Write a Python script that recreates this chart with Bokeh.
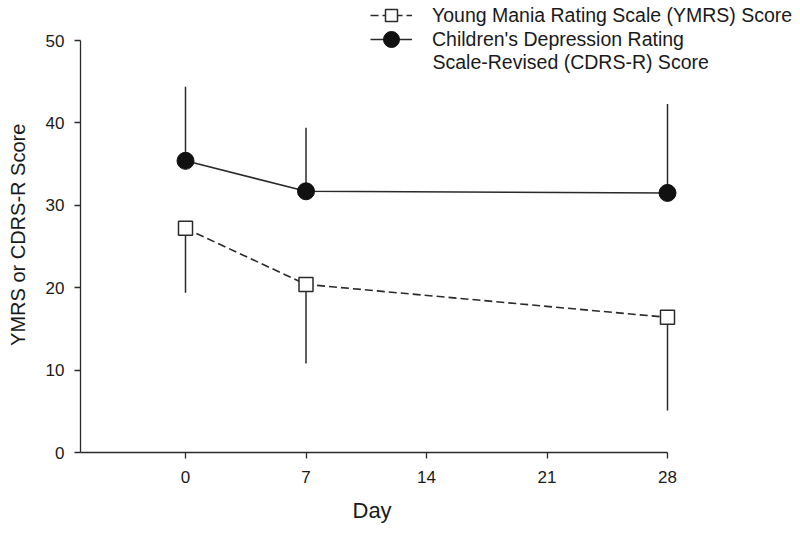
from bokeh.plotting import figure
from bokeh.models import Legend, LegendItem, Range1d, FixedTicker, ColumnDataSource, Label, Title
from bokeh.embed import file_html
from bokeh.resources import INLINE

# ---- data ----
days = [0, 7, 28]
ymrs_mean = [27.2, 20.4, 16.4]
ymrs_sd = [7.8, 9.6, 11.3]      # drawn downward
cdrs_mean = [35.4, 31.7, 31.5]
cdrs_sd = [9.0, 7.7, 10.8]      # drawn upward
x_ticks = [0, 7, 14, 21, 28]
y_ticks = [0, 10, 20, 30, 40, 50]
ymrs_label = "Young Mania Rating Scale (YMRS) Score"
cdrs_label_1 = "Children's Depression Rating"
cdrs_label_2 = "Scale-Revised (CDRS-R) Score"
x_title = "Day"
y_title = "YMRS or CDRS-R Score"

ymrs_low = [m - s for m, s in zip(ymrs_mean, ymrs_sd)]
cdrs_high = [m + s for m, s in zip(cdrs_mean, cdrs_sd)]

src = ColumnDataSource(dict(day=days, ym=ymrs_mean, ylo=ymrs_low,
                            cm=cdrs_mean, chi=cdrs_high))

FONT = "Liberation Sans"
INK = "#2a2a2a"
TXT = "#1a1a1a"

BL, BB = 80, 85
FW, FH = 716, 452
PX_DAY = (667 - 185) / 28.0
PX_UNIT = 412 / 50.0
x0 = -(185 - 80) / PX_DAY
x1 = x0 + FW / PX_DAY
ytop = FH / PX_UNIT

p = figure(width=BL + FW, height=FH + BB, frame_width=FW, frame_height=FH,
           output_backend="svg", toolbar_location=None,
           x_range=Range1d(x0, x1), y_range=Range1d(0, ytop),
           min_border_left=BL, min_border_right=0, min_border_top=0, min_border_bottom=BB)
p.outline_line_color = None
p.xgrid.visible = False
p.ygrid.visible = False
p.background_fill_color = "white"

for ax in (p.xaxis, p.yaxis):
    ax.axis_line_color = INK
    ax.axis_line_width = 1.3
    ax.major_tick_line_color = INK
    ax.major_tick_line_width = 1.3
    ax.major_tick_out = 6
    ax.major_tick_in = 0
    ax.minor_tick_line_color = None
    ax.major_label_text_font = FONT
    ax.major_label_text_font_size = "17px"
    ax.major_label_text_color = TXT

p.xaxis.ticker = FixedTicker(ticks=x_ticks)
p.yaxis.ticker = FixedTicker(ticks=y_ticks)
p.xaxis.bounds = (x0, 28)
p.yaxis.bounds = (0, 50)
p.xaxis.major_label_standoff = 12
p.yaxis.major_label_standoff = 10

# y title: axis label (non-breaking spaces nudge it to sit centred on the drawn axis line)
p.yaxis.axis_label = y_title + "\u00a0\u00a0\u00a0"
p.yaxis.axis_label_text_font = FONT
p.yaxis.axis_label_text_font_size = "20px"
p.yaxis.axis_label_text_font_style = "normal"
p.yaxis.axis_label_text_color = TXT
p.yaxis.axis_label_standoff = 14

# x title, centred under the drawn axis line (as in the reference)
p.add_layout(Title(text=x_title, align="left", offset=272, standoff=21,
                   text_font=FONT, text_font_size="22px", text_font_style="normal",
                   text_color=TXT), "below")

# error bars
p.segment(x0="day", y0="ym", x1="day", y1="ylo", source=src, line_color=INK, line_width=1.5)
p.segment(x0="day", y0="cm", x1="day", y1="chi", source=src, line_color=INK, line_width=1.5)

# lines
l_y = p.line("day", "ym", source=src, line_color=INK, line_width=1.6, line_dash="8 4")
l_c = p.line("day", "cm", source=src, line_color=INK, line_width=1.6)

# markers
m_y = p.scatter("day", "ym", source=src, marker="square", size=14, fill_color="white",
                line_color=INK, line_width=1.5)
m_c = p.scatter("day", "cm", source=src, marker="circle", size=17, fill_color="#111111",
                line_color="#111111", line_width=1)


def make_legend(item, gh, loc):
    lg = Legend(items=[item], location=loc)
    lg.label_text_font = FONT
    lg.label_text_font_size = "19.5px"
    lg.label_text_color = TXT
    lg.glyph_width = 42
    lg.glyph_height = gh
    lg.label_standoff = 20
    lg.padding = 0
    lg.margin = 0
    lg.spacing = 0
    lg.border_line_color = None
    lg.background_fill_alpha = 0
    return lg


p.add_layout(make_legend(LegendItem(label=ymrs_label, renderers=[l_y, m_y]), 30,
                         (370 - BL, FH - 30)), "center")
p.add_layout(make_legend(LegendItem(label=cdrs_label_1, renderers=[l_c, m_c]), 40,
                         (370 - BL, FH - 59)), "center")
p.add_layout(Label(x=432 - BL, y=FH - 61, x_units="screen", y_units="screen",
                   text=cdrs_label_2, text_font=FONT, text_font_size="19.5px",
                   text_color=TXT, text_baseline="middle"), "center")

open("out.html", "w").write(file_html(p, INLINE))
